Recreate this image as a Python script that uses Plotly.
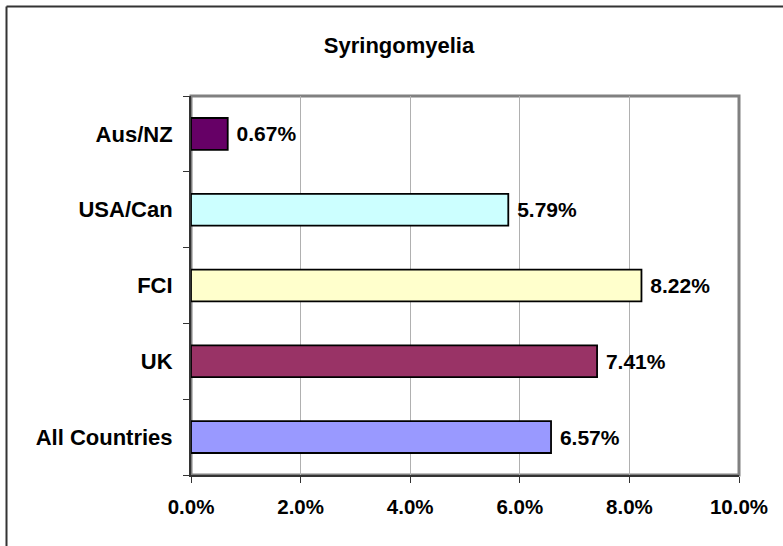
import plotly.graph_objects as go

categories = ["All Countries", "UK", "FCI", "USA/Can", "Aus/NZ"]
values = [0.0657, 0.0741, 0.0822, 0.0579, 0.0067]
colors = ["#9999FF", "#993366", "#FFFFCC", "#CCFFFF", "#660066"]
x_ticks = [0, 0.02, 0.04, 0.06, 0.08, 0.10]

W, H = 783, 546
ML, MR, MT, MB = 191, 44, 96, 71
pw, ph = W - ML - MR, H - MT - MB

def px(x):
    return (x - ML) / pw

def py(y):
    return (H - MB - y) / ph

font = "Liberation Sans, Arial, sans-serif"

fig = go.Figure(go.Bar(
    y=categories, x=values, orientation="h",
    marker=dict(color=colors, line=dict(color="#000000", width=1.8)),
    texttemplate="&nbsp;%{x:.2%}", textposition="outside",
    textfont=dict(family=font, size=21, color="#000000", weight="bold"),
    cliponaxis=False, width=0.42,
))

fig.update_layout(
    width=W, height=H,
    margin=dict(l=ML, r=MR, t=MT, b=MB),
    paper_bgcolor="white", plot_bgcolor="white",
    showlegend=False,
    title=dict(text="Syringomyelia", x=399 / W, xref="container", xanchor="center",
               y=1 - 45 / H, yref="container", yanchor="middle",
               font=dict(family=font, size=22, color="#000000", weight="bold")),
    font=dict(family=font, color="#000000"),
    xaxis=dict(range=[0, 0.10], tickvals=x_ticks, tickformat=".1%",
               showgrid=True, gridcolor="#B0B0B0", gridwidth=1,
               showline=True, linecolor="#333333", linewidth=2,
               ticks="outside", ticklen=6, tickcolor="#333333",
               ticklabelstandoff=6,
               tickfont=dict(family=font, size=20.5, color="#000000", weight="bold"),
               zeroline=False, fixedrange=True),
    yaxis=dict(categoryorder="array", categoryarray=categories,
               showline=True, linecolor="#333333", linewidth=2,
               ticks="outside", ticklen=6, tickcolor="#333333",
               tickson="boundaries", showgrid=False,
               ticklabelstandoff=12,
               tickfont=dict(family=font, size=22, color="#000000", weight="bold"),
               fixedrange=True),
    shapes=[
        dict(type="rect", xref="paper", yref="paper", x0=0, x1=1, y0=0, y1=1,
             line=dict(color="#808080", width=3), layer="below"),
        dict(type="line", xref="paper", yref="paper", x0=px(6.5), x1=px(800),
             y0=py(6.5), y1=py(6.5), line=dict(color="#333333", width=2)),
        dict(type="line", xref="paper", yref="paper", x0=px(6.5), x1=px(6.5),
             y0=py(6.5), y1=py(560), line=dict(color="#333333", width=2)),
    ],
)

fig.write_html("out.html", config={"displayModeBar": False},
               post_script="document.body.style.margin='0';document.body.style.overflow='hidden';")
